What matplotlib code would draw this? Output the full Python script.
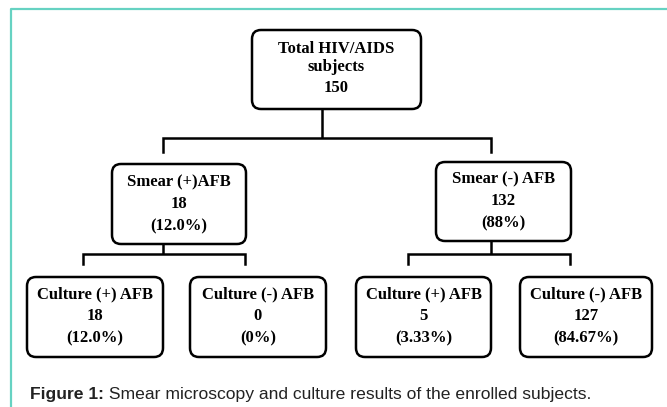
import matplotlib.pyplot as plt
from matplotlib.patches import FancyBboxPatch

# chart content
top_lines = ["Total HIV/AIDS", "subjects"]
total = 150
smear_labels = ["Smear (+)AFB", "Smear (-) AFB"]
smear_counts = [18, 132]
smear_pct = ["(12.0%)", "(88%)"]
culture_labels = ["Culture (+) AFB", "Culture (-) AFB", "Culture (+) AFB", "Culture (-) AFB"]
culture_counts = [18, 0, 5, 127]
culture_pct = ["(12.0%)", "(0%)", "(3.33%)", "(84.67%)"]
caption_bold = "Figure 1:"
caption_rest = " Smear microscopy and culture results of the enrolled subjects."

# layout in pixels (x0, x1, y0, y1)
top_box = (252, 421, 30, 109)
smear_boxes = [(112, 246, 164, 244), (436, 571, 162, 241)]
culture_boxes = [(27, 163, 277, 357), (190, 326, 277, 357),
                 (356, 491, 277, 357), (520, 652, 277, 357)]

W, H = 667, 407
fig = plt.figure(figsize=(W / 100, H / 100), dpi=100)
ax = fig.add_axes([0, 0, 1, 1])
ax.set_xlim(0, W)
ax.set_ylim(H, 0)
ax.axis("off")

lw = 1.8
font = dict(family="Liberation Serif", weight="bold", fontsize=12,
            ha="center", va="center", color="black")


def box(b, lines, rows):
    x0, x1, y0, y1 = b
    ax.add_patch(FancyBboxPatch((x0, y0), x1 - x0, y1 - y0,
                                boxstyle="round,pad=0,rounding_size=9",
                                fc="white", ec="black", lw=lw, zorder=3))
    cx = (x0 + x1) / 2
    for txt, y in zip(lines, rows):
        ax.text(cx, y, txt, zorder=4, **font)


def fork(stem_x, y_top, y_mid, left_x, right_x, y_bot):
    ax.plot([stem_x, stem_x], [y_top, y_mid], color="black", lw=lw, solid_capstyle="butt")
    ax.plot([left_x, left_x, right_x, right_x], [y_bot, y_mid, y_mid, y_bot],
            color="black", lw=lw, solid_joinstyle="miter")


# frame
teal = "#66d2c2"
ax.plot([11, 11, W], [H, 9, 9], color=teal, lw=1.6)

# top level
box(top_box, top_lines + [str(total)], [49, 67, 88])
fork(322, top_box[3], 138, 163, 491, 152)

# smear level
smear_rows = [[182, 204, 226], [179, 201, 223]]
for b, lab, n, p, rows in zip(smear_boxes, smear_labels, smear_counts, smear_pct, smear_rows):
    box(b, [lab, str(n), p], rows)
fork(163, smear_boxes[0][3], 254, 83, 245, 264)
fork(491, smear_boxes[1][3], 254, 408, 570, 264)

# culture level
for b, lab, n, p in zip(culture_boxes, culture_labels, culture_counts, culture_pct):
    box(b, [lab, str(n), p], [294, 316, 338])

# caption
t = ax.text(30, 395, caption_bold, family="Liberation Sans", weight="bold",
            fontsize=12.6, va="center", ha="left", color="#222222")
fig.canvas.draw()
ext = t.get_window_extent()
x_end = ax.transData.inverted().transform((ext.x1, ext.y0))[0]
ax.text(x_end, 395, caption_rest, family="Liberation Sans", fontsize=12.6,
        va="center", ha="left", color="#222222")

fig.savefig("out.png", dpi=100)
